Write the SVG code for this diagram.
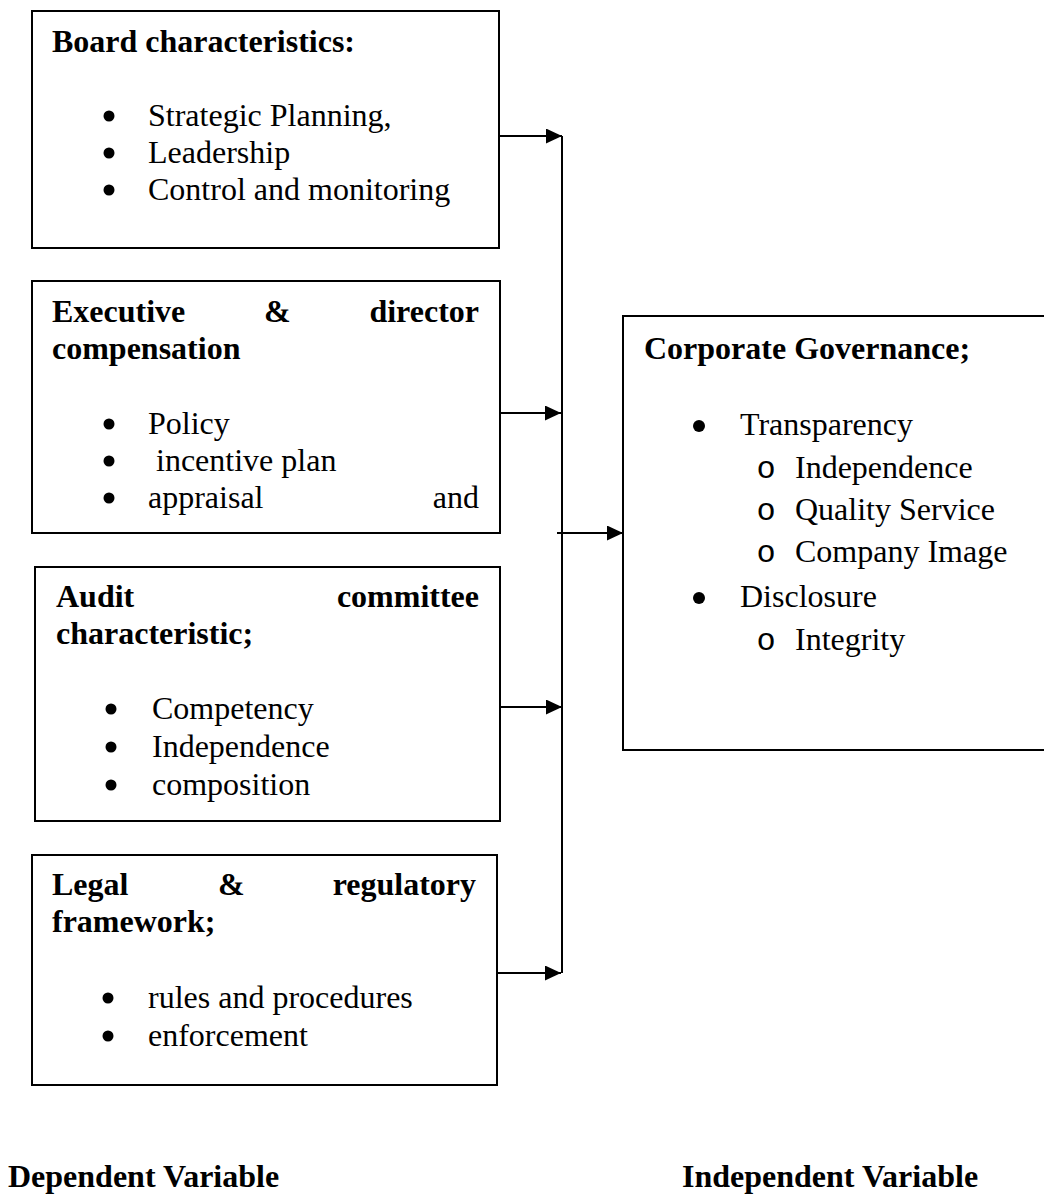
<svg xmlns="http://www.w3.org/2000/svg" width="1044" height="1194" viewBox="0 0 1044 1194">
  <style>
    .box { fill: #ffffff; stroke: #000000; stroke-width: 2; }
    .t { font-family: "Liberation Serif", "Times New Roman", serif; font-size: 32px; fill: #000000; }
    .b { font-weight: bold; }
    .dot { fill: #000000; }
    .ring { font-family: "Liberation Mono", "Courier New", monospace; font-size: 32px; fill: #000000; text-anchor: middle; }
    .end { text-anchor: end; }
    .wire { fill: none; stroke: #000000; stroke-width: 2; }
  </style>
  <defs>
    <marker id="arrow" markerUnits="userSpaceOnUse" markerWidth="16" markerHeight="15" refX="16" refY="7.5" orient="auto">
      <path d="M0,0 L16,7.5 L0,15 z" fill="#000000"/>
    </marker>
  </defs>

  <rect width="1044" height="1194" fill="#ffffff"/>

  <!-- Board characteristics -->
  <g id="board">
    <rect class="box" x="32" y="11" width="467" height="237"/>
    <text class="t b" x="52" y="52">Board characteristics:</text>
    <circle class="dot" cx="109" cy="116" r="5.5"/>
    <text class="t" x="148" y="126">Strategic Planning,</text>
    <circle class="dot" cx="109" cy="153" r="5.5"/>
    <text class="t" x="148" y="163">Leadership</text>
    <circle class="dot" cx="109" cy="190" r="5.5"/>
    <text class="t" x="148" y="200">Control and monitoring</text>
  </g>

  <!-- Executive & director compensation -->
  <g id="compensation">
    <rect class="box" x="32" y="281" width="468" height="252"/>
    <text class="t b" x="52" y="322">Executive</text>
    <text class="t b" x="264" y="322">&amp;</text>
    <text class="t b end" x="479" y="322">director</text>
    <text class="t b" x="52" y="359">compensation</text>
    <circle class="dot" cx="109" cy="424" r="5.5"/>
    <text class="t" x="148" y="434">Policy</text>
    <circle class="dot" cx="109" cy="461" r="5.5"/>
    <text class="t" x="156" y="471">incentive plan</text>
    <circle class="dot" cx="109" cy="498" r="5.5"/>
    <text class="t" x="148" y="508">appraisal</text>
    <text class="t end" x="479" y="508">and</text>
  </g>

  <!-- Audit committee characteristic -->
  <g id="audit">
    <rect class="box" x="35" y="567" width="465" height="254"/>
    <text class="t b" x="56" y="607">Audit</text>
    <text class="t b end" x="479" y="607">committee</text>
    <text class="t b" x="56" y="644">characteristic;</text>
    <circle class="dot" cx="111" cy="709" r="5.5"/>
    <text class="t" x="152" y="719">Competency</text>
    <circle class="dot" cx="111" cy="747" r="5.5"/>
    <text class="t" x="152" y="757">Independence</text>
    <circle class="dot" cx="111" cy="785" r="5.5"/>
    <text class="t" x="152" y="795">composition</text>
  </g>

  <!-- Legal & regulatory framework -->
  <g id="legal">
    <rect class="box" x="32" y="855" width="465" height="230"/>
    <text class="t b" x="52" y="895">Legal</text>
    <text class="t b" x="218" y="895">&amp;</text>
    <text class="t b end" x="476" y="895">regulatory</text>
    <text class="t b" x="52" y="932">framework;</text>
    <circle class="dot" cx="108" cy="998" r="5.5"/>
    <text class="t" x="148" y="1008">rules and procedures</text>
    <circle class="dot" cx="108" cy="1036" r="5.5"/>
    <text class="t" x="148" y="1046">enforcement</text>
  </g>

  <!-- Corporate Governance -->
  <g id="governance">
    <rect class="box" x="623" y="316" width="430" height="434"/>
    <text class="t b" x="644" y="359">Corporate Governance;</text>
    <circle class="dot" cx="699" cy="426" r="6"/>
    <text class="t" x="740" y="435">Transparency</text>
    <text class="ring" x="766" y="478">o</text>
    <text class="t" x="795" y="478">Independence</text>
    <text class="ring" x="766" y="520">o</text>
    <text class="t" x="795" y="520">Quality Service</text>
    <text class="ring" x="766" y="562">o</text>
    <text class="t" x="795" y="562">Company Image</text>
    <circle class="dot" cx="699" cy="598" r="6"/>
    <text class="t" x="740" y="607">Disclosure</text>
    <text class="ring" x="766" y="650">o</text>
    <text class="t" x="795" y="650">Integrity</text>
  </g>

  <!-- Axis captions -->
  <g id="captions">
    <text class="t b" x="8" y="1187">Dependent Variable</text>
    <text class="t b" x="682" y="1187">Independent Variable</text>
  </g>

  <!-- Connectors: each factor feeds a shared bus that points at the outcome box -->
  <g id="connectors">
    <line class="wire" x1="562" y1="136" x2="562" y2="973"/>
    <line class="wire" x1="499" y1="136" x2="562" y2="136" marker-end="url(#arrow)"/>
    <line class="wire" x1="500" y1="413" x2="561" y2="413" marker-end="url(#arrow)"/>
    <line class="wire" x1="500" y1="707" x2="562" y2="707" marker-end="url(#arrow)"/>
    <line class="wire" x1="497" y1="973" x2="561" y2="973" marker-end="url(#arrow)"/>
    <line class="wire" x1="557" y1="533" x2="623" y2="533" marker-end="url(#arrow)"/>
  </g>
</svg>
